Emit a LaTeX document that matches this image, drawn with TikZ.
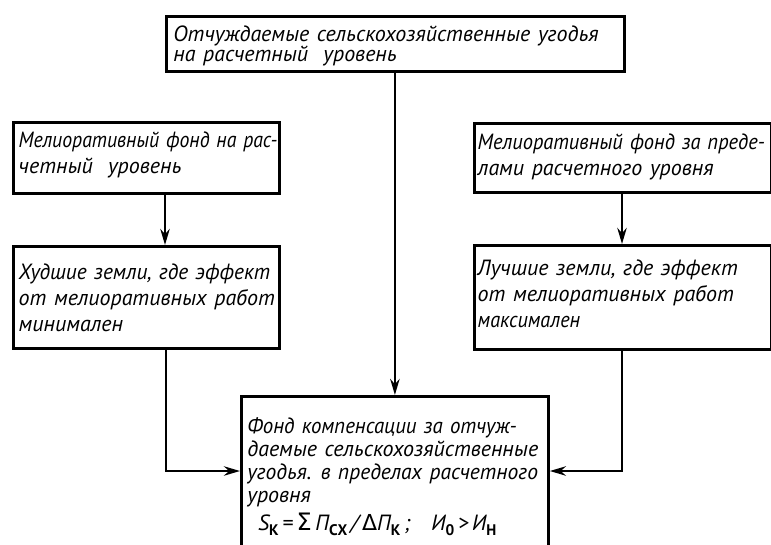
\documentclass[tikz,border=0pt]{standalone}
\usepackage{fontspec}
\setmainfont{PT Sans}[WordSpace=1.3]
\newfontfamily\grk{DejaVu Sans}
\usetikzlibrary{arrows.meta}
\newcommand{\sbx}[1]{\raisebox{-0.45ex}{\fontsize{11.5}{11.5}\selectfont\upshape\bfseries #1}}
\newcommand{\sq}[2]{\scalebox{#1}[1]{#2}}
\begin{document}
\begin{tikzpicture}[x=0.75pt,y=-0.75pt, line width=2.1pt,
  box/.style={draw, rectangle, inner sep=0pt, anchor=north west},
  txt/.style={inner sep=0pt, align=left, font=\fontsize{16.5}{19.5}\selectfont\itshape},
  arr/.style={-{Stealth[length=12pt,width=7pt]}}]
\clip (0,0) rectangle (771,544);
\fill[white] (0,0) rectangle (771,544);

% boxes
\node[box, minimum width=343.5pt, minimum height=41.25pt] (top) at (165,15) {};
\node[box, minimum width=199.5pt, minimum height=53.25pt] (l1) at (12,121) {};
\node[box, minimum width=222.75pt, minimum height=51.75pt] (r1) at (473,122) {};
\node[box, minimum width=199.5pt, minimum height=76.5pt] (l2) at (12,245) {};
\node[box, minimum width=222.75pt, minimum height=78pt] (r2) at (473,244) {};
\node[box, minimum width=230.25pt, minimum height=127.5pt] (bot) at (240,395) {};

% texts
\node[txt, anchor=west, font=\fontsize{16.5}{15}\selectfont\itshape] (ttop) at ([xshift=5.25pt,yshift=-1.5pt]top.west)
  {Отчуждаемые сельскохозяйственные угодья\\на расчетный\ \ уровень};
\node[txt, anchor=west] (tl1) at ([xshift=4pt,yshift=2pt]l1.west)
  {\sq{0.9}{Мелиоративный фонд на рас-}\\четный\ \ уровень};
\node[txt, anchor=west] (tr1) at ([xshift=2.5pt,yshift=1pt]r1.west)
  {\sq{0.93}{Мелиоративный фонд за преде-}\\лами\ расчетного\ уровня};
\node[txt, anchor=west] (tl2) at ([xshift=4pt]l2.west)
  {\sq{0.97}{Худшие земли, где эффект}\\от мелиоративных работ\\минимален};
\node[txt, anchor=west] (tr2) at ([xshift=2.5pt,yshift=3pt]r2.west)
  {Лучшие земли, где эффект\\от мелиоративных работ\\\sq{0.92}{максимален}};
\node[txt, anchor=north west, font=\fontsize{16.5}{17.25}\selectfont\itshape] (tbot) at (246,416)
  {\sq{0.95}{Фонд компенсации за отчуж-}\\даемые сельскохозяйственные\\\sq{0.98}{угодья. в пределах расчетного}\\уровня\\[4pt]
   \hspace*{8pt}\textit{S}\sbx{К}\,=\,{\upshape\grk\fontsize{18}{18}\selectfont Σ}\,\textit{П}\sbx{СХ}\,/\,{\upshape\grk Δ}\textit{П}\sbx{К}\,;\hspace{16pt}\textit{И}\sbx{0}\,>\,\textit{И}\sbx{Н}};

% connectors
\coordinate (al) at (165,0);
\coordinate (jl) at (166,471);
\coordinate (jr) at (622,471);
\draw[arr] (top.south -| bot.north) -- (bot.north);
\draw[arr] (l1.south -| al) -- (l2.north -| al);
\draw[arr] (r1.south -| jr) -- (r2.north -| jr);
\draw[arr] (l2.south -| jl) -- (jl) -- (bot.west |- jl);
\draw[arr] (r2.south -| jr) -- (jr) -- (bot.east |- jr);
\end{tikzpicture}
\end{document}
